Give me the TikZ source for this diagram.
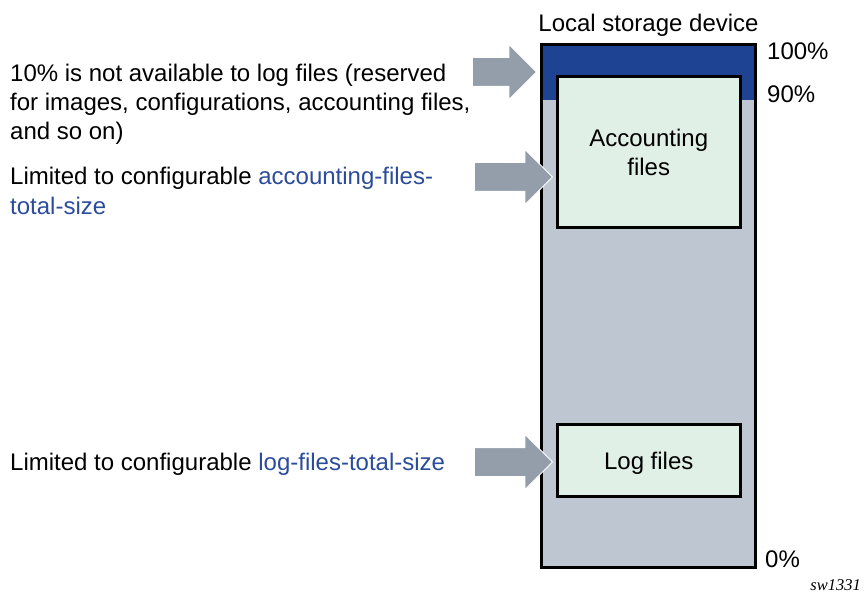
\documentclass[tikz,border=0pt]{standalone}
\usepackage{fontspec}
\setmainfont{Liberation Sans}
\newfontfamily\tagfont{Liberation Serif}
\usepackage{tikz}
\usepackage{xcolor}
\usetikzlibrary{shapes,shapes.arrows,positioning}
\definecolor{reservedblue}{RGB}{30,67,146}
\definecolor{storagegrey}{RGB}{190,199,209}
\definecolor{filesgreen}{RGB}{225,240,230}
\definecolor{arrowgrey}{RGB}{147,158,170}
\definecolor{linkblue}{RGB}{43,76,155}

\begin{document}
\begin{tikzpicture}[x=1pt,y=-1pt,
    every node/.style={font=\fontsize{24}{29}\selectfont},
    filebox/.style={draw=black, line width=3pt, fill=filesgreen, minimum width=183.5pt, align=center, inner sep=0pt},
    bigarrow/.style={single arrow, fill=arrowgrey, draw=white, line width=0.8pt, text height=14pt, text depth=14pt, single arrow head extend=13pt, inner sep=0pt, anchor=tip},
    desc/.style={anchor=base west, inner sep=0pt}]
    \useasboundingbox (0,0) rectangle (867,593);
    % Storage device with the reserved 10%
    \node[fill=storagegrey, minimum width=214pt, minimum height=523pt, inner sep=0pt, outer sep=0pt] (device) at (648.5,306) {};
    \fill[reservedblue] (device.north west) rectangle (device.east |- 0,100);
    \draw[line width=3pt] (device.north west) rectangle (device.south east);
    \node[anchor=base, inner sep=0pt] (title) at (648.5,32) {Local storage device};
    \node[desc] (p100) at (767,60) {100\%};
    \node[desc] (p90) at (767,103) {90\%};
    \node[desc] (p0) at (765,567) {0\%};
    % File areas
    \node[filebox, minimum height=151.5pt] (acct) at (648.75,152.25) {Accounting\\files};
    \node[filebox, minimum height=72pt, text depth=0pt] (logs) at (648.75,460.5) {Log files};
    % Arrows
    \node[bigarrow, minimum height=64pt] (arr1) at (537,72) {};
    \node[bigarrow, minimum height=78pt] (arr2) at (553,177) {};
    \node[bigarrow, minimum height=78pt] (arr3) at (553,462) {};
    % Descriptions
    \node[desc] (res1) at (10,82) {10\% is not available to log files (reserved};
    \node[desc] (res2) at (10,111) {for images, configurations, accounting files,};
    \node[desc] (res3) at (10,140) {and so on)};
    \node[desc] (acc1) at (10,185) {Limited to configurable \textcolor{linkblue}{accounting-files-}};
    \node[desc] (acc2) at (10,215) {\textcolor{linkblue}{total-size}};
    \node[desc] (log1) at (10,470) {Limited to configurable \textcolor{linkblue}{log-files-total-size}};
    \node[anchor=base east, inner sep=0pt, font=\tagfont\itshape\fontsize{16.5}{18}\selectfont] (tag) at (861,590) {sw1331};
\end{tikzpicture}
\end{document}
